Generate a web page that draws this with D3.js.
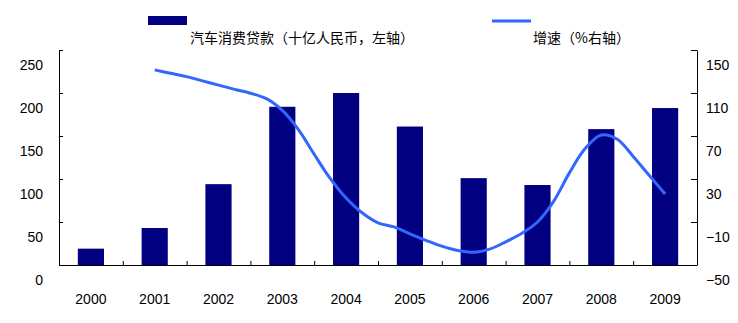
<!DOCTYPE html>
<html>
<head>
<meta charset="utf-8">
<script src="https://cdn.jsdelivr.net/npm/d3@7/dist/d3.min.js"></script>
<style>
  html, body { margin: 0; padding: 0; background: #fff; }
  svg { display: block; }
  .axis text { font-family: "Liberation Sans", Arial, sans-serif; font-size: 14px; fill: #000; }
  .legend text { font-family: "Noto Sans CJK SC", sans-serif; font-size: 14px; fill: #000; }
</style>
</head>
<body>
<svg id="chart" width="738" height="323"></svg>
<script>
// Auto consumer loans (billion RMB, left axis), year-end
const years = ["2000", "2001", "2002", "2003", "2004", "2005", "2006", "2007", "2008", "2009"];
const loans = [19, 43, 94, 184, 200, 161, 101, 93, 158, 182.5];

// Growth rate (%, right axis), quarterly readings from 2001 to 2009
const growthTime = [2001, 2001.25, 2001.5, 2001.75, 2002, 2002.25, 2002.5, 2002.75,
  2003, 2003.25, 2003.5, 2003.75, 2004, 2004.25, 2004.5, 2004.75,
  2005, 2005.25, 2005.5, 2005.75, 2006, 2006.25, 2006.5, 2006.75,
  2007, 2007.25, 2007.5, 2007.75, 2008, 2008.25, 2008.5, 2008.75, 2009];
const growth = [131.5, 128.3, 125.2, 121.3, 117.3, 113.4, 109.8, 104.7,
  93.8, 76.2, 53, 30.5, 12.3, -1.4, -10.7, -14.6,
  -21, -27, -32.5, -36.5, -38.2, -35.2, -28.5, -20.7,
  -10, 8.9, 35.7, 58.5, 70.9, 67, 51, 33.5, 16];

const leftTicks = [0, 50, 100, 150, 200, 250];
const rightTicks = [-50, -10, 30, 70, 110, 150];

const legendLabels = ["汽车消费贷款（十亿人民币，左轴）", "增速（%右轴）"];

const barColor = "#000080";
const lineColor = "#3366ff";

const plot = { left: 59, right: 697, top: 50, bottom: 265 };
const labelShift = 15;

const svg = d3.select("#chart");

const x = d3.scaleBand().domain(years)
  .range([plot.left, plot.right]).paddingInner(0.59).paddingOuter(0.295);
const xt = d3.scaleLinear().domain([1999.5, 2009.5]).range([plot.left, plot.right]);
const yL = d3.scaleLinear().domain([0, 250]).range([plot.bottom, plot.top]);
const yR = d3.scaleLinear().domain([-50, 150]).range([plot.bottom, plot.top]);

// bars
svg.append("g").selectAll("rect").data(years).join("rect")
  .attr("x", d => x(d))
  .attr("width", x.bandwidth())
  .attr("y", (d, i) => yL(loans[i]))
  .attr("height", (d, i) => yL(0) - yL(loans[i]))
  .attr("fill", barColor);

// growth line
const line = d3.line()
  .x((d, i) => xt(growthTime[i]))
  .y(d => yR(d))
  .curve(d3.curveCatmullRom.alpha(0.5));
svg.append("path").datum(growth)
  .attr("d", line)
  .attr("fill", "none")
  .attr("stroke", lineColor)
  .attr("stroke-width", 3)
  .attr("stroke-linejoin", "round");

// left axis
const gl = svg.append("g").attr("class", "axis")
  .attr("transform", `translate(${plot.left},0)`)
  .call(d3.axisLeft(yL).tickValues(leftTicks).tickSizeInner(-4).tickSizeOuter(0).tickPadding(16));
gl.selectAll("text").attr("y", labelShift);

// right axis
const gr = svg.append("g").attr("class", "axis")
  .attr("transform", `translate(${plot.right},0)`)
  .call(d3.axisRight(yR).tickValues(rightTicks).tickSizeInner(-6).tickSizeOuter(0).tickPadding(9));
gr.selectAll("text").attr("y", labelShift);

// bottom axis: labels under each category, ticks on category boundaries
const gb = svg.append("g").attr("class", "axis")
  .attr("transform", `translate(0,${plot.bottom})`)
  .call(d3.axisBottom(x).tickSize(0).tickPadding(29));
gb.select(".domain").attr("d", `M${plot.left},0.5H${plot.right}`);

svg.append("g").attr("class", "axis")
  .attr("transform", `translate(0,${plot.bottom})`)
  .call(d3.axisTop(xt).tickValues(d3.range(2000.5, 2009, 1)).tickFormat("").tickSize(4))
  .select(".domain").remove();

svg.selectAll(".axis path, .axis line").attr("stroke", "#000");

// legend
const lg = svg.append("g").attr("class", "legend");
lg.append("rect").attr("x", 148).attr("y", 16).attr("width", 39).attr("height", 9).attr("fill", barColor);
lg.append("text").attr("x", 190).attr("y", 43).text(legendLabels[0]);
lg.append("line").attr("x1", 492).attr("x2", 531).attr("y1", 21).attr("y2", 21)
  .attr("stroke", lineColor).attr("stroke-width", 3);
lg.append("text").attr("x", 533).attr("y", 43).text(legendLabels[1]);
</script>
</body>
</html>
